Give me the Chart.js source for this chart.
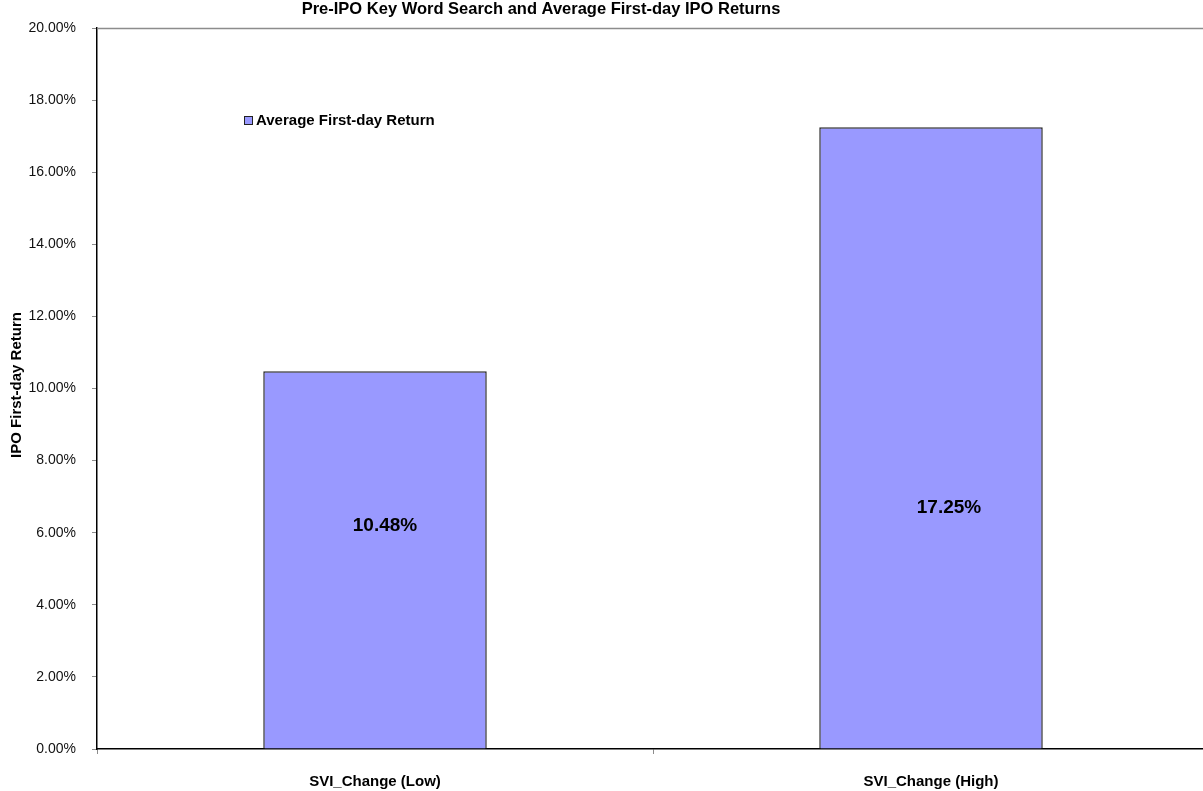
<!DOCTYPE html>
<html>
<head>
<meta charset="utf-8">
<script src="https://cdn.jsdelivr.net/npm/chart.js@4/dist/chart.umd.min.js"></script>
<style>
  html, body { margin: 0; padding: 0; background: #fff; overflow: hidden; }
  #wrap { width: 1203px; height: 791px; overflow: hidden; position: relative; }
  #box { width: 1209px; height: 791px; }
</style>
</head>
<body>
<div id="wrap"><div id="box"><canvas id="chart"></canvas></div></div>
<script>
// chart data
const categories = ['SVI_Change (Low)', 'SVI_Change (High)'];
const returns = [0.1048, 0.1725];
const labelAt = [0.0619, 0.0669]; // where Excel put the value labels (y units)
const yTicks = [0, 0.02, 0.04, 0.06, 0.08, 0.10, 0.12, 0.14, 0.16, 0.18, 0.20];

const chartTitle = 'Pre-IPO Key Word Search and Average First-day IPO Returns';
const yTitle = 'IPO First-day Return';
const seriesName = 'Average First-day Return';

const FONT = "'Liberation Sans', Arial, sans-serif";
const fmtPct = v => (v * 100).toFixed(2) + '%';

// title, legend, axis title, top border and value labels
const decorations = {
  id: 'decorations',
  afterDatasetsDraw(chart) {
    const ctx = chart.ctx;
    const area = chart.chartArea;
    const y = chart.scales.y;
    ctx.save();

    // top border of the plot
    ctx.strokeStyle = '#8c8c8c';
    ctx.lineWidth = 1.5;
    ctx.beginPath();
    ctx.moveTo(area.left, area.top + 0.5);
    ctx.lineTo(area.right, area.top + 0.5);
    ctx.stroke();

    // value labels
    ctx.fillStyle = '#000';
    ctx.font = 'bold 19px ' + FONT;
    ctx.textAlign = 'center';
    ctx.textBaseline = 'middle';
    chart.getDatasetMeta(0).data.forEach((bar, i) => {
      ctx.fillText(fmtPct(returns[i]), bar.x + 10 + i * 8, y.getPixelForValue(labelAt[i]));
    });

    // chart title
    ctx.font = 'bold 16.5px ' + FONT;
    ctx.fillText(chartTitle, 541, 9);

    // y axis title
    ctx.save();
    ctx.translate(17, 385);
    ctx.rotate(-Math.PI / 2);
    ctx.font = 'bold 15px ' + FONT;
    ctx.fillText(yTitle, 0, 0);
    ctx.restore();

    // legend
    ctx.fillStyle = '#9999ff';
    ctx.fillRect(244.5, 116.5, 8, 8);
    ctx.strokeStyle = '#222';
    ctx.lineWidth = 1;
    ctx.strokeRect(244.5, 116.5, 8, 8);
    ctx.fillStyle = '#000';
    ctx.textAlign = 'left';
    ctx.font = 'bold 15px ' + FONT;
    ctx.fillText(seriesName, 256, 121);

    ctx.restore();
  }
};

new Chart(document.getElementById('chart'), {
  type: 'bar',
  data: {
    labels: categories,
    datasets: [{
      label: seriesName,
      data: returns,
      backgroundColor: '#9999ff',
      borderColor: '#2a2a2a',
      borderWidth: 1.5,
      categoryPercentage: 1,
      barPercentage: 0.402
    }]
  },
  options: {
    responsive: true,
    maintainAspectRatio: false,
    animation: false,
    layout: { padding: { top: 28, right: 0, left: 0, bottom: 0 } },
    plugins: {
      legend: { display: false },
      title: { display: false },
      tooltip: { enabled: false }
    },
    scales: {
      x: {
        afterFit(scale) { scale.height = 42; },
        grid: {
          offset: true,
          drawOnChartArea: false,
          color: '#8c8c8c',
          tickLength: 5
        },
        border: { color: '#000', width: 1.5 },
        ticks: {
          color: '#000',
          padding: 19,
          font: { family: FONT, size: 15, weight: 'bold' }
        }
      },
      y: {
        min: 0,
        max: 0.2,
        afterFit(scale) { scale.width = 97; },
        afterBuildTicks(scale) { scale.ticks = yTicks.map(v => ({ value: v })); },
        grid: {
          drawOnChartArea: false,
          color: '#8c8c8c',
          tickLength: 5
        },
        border: { color: '#000', width: 1.5 },
        ticks: {
          color: '#111',
          padding: 16,
          font: { family: FONT, size: 14 },
          callback: v => fmtPct(v)
        }
      }
    }
  },
  plugins: [decorations]
});
</script>
</body>
</html>
